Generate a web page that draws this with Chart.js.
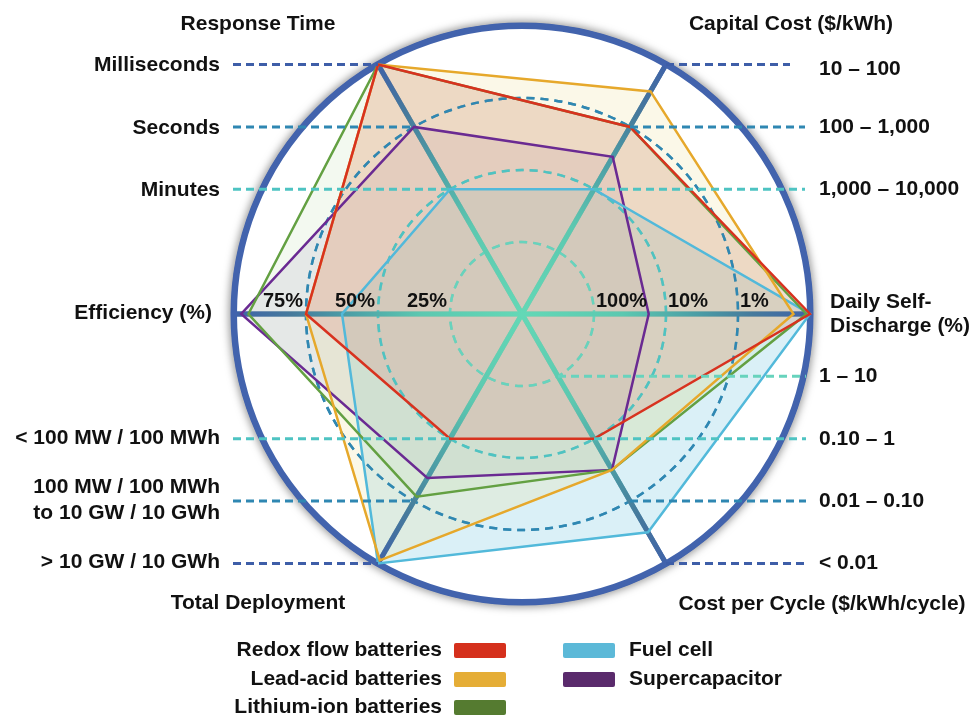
<!DOCTYPE html>
<html>
<head>
<meta charset="utf-8">
<script src="https://cdn.jsdelivr.net/npm/chart.js@4.4.0/dist/chart.umd.min.js"></script>
<style>
  html, body { margin: 0; padding: 0; background: #fff; }
  #wrap { width: 973px; height: 716px; position: relative; }
</style>
</head>
<body>
<div id="wrap"><canvas id="storageChart"></canvas></div>
<script>
// axes in Chart.js order (clockwise), rotated so Capital Cost sits upper right
var axisNames = ['Capital Cost', 'Daily Self-Discharge', 'Cost per Cycle', 'Total Deployment', 'Efficiency', 'Response Time'];

// ring levels 0-4
var redoxFlow = [3, 4, 2, 2, 3, 4];
var leadAcid = [3.57, 3.77, 2.5, 3.95, 3, 4];
var lithiumIon = [3, 3.95, 2.5, 2.93, 3.8, 4];
var fuelCell = [2, 4, 3.5, 4, 2.5, 2];
var supercapacitor = [2.52, 1.76, 2.5, 2.63, 3.9, 3];

// tick labels per axis, with the ring level each one belongs to
var capitalTicks = ['1,000 – 10,000', '100 – 1,000', '10 – 100'];
var capitalLevels = [2, 3, 4];
var dischargeTicks = ['100%', '10%', '1%'];
var dischargeLevels = [1, 2, 3];
var cycleTicks = ['1 – 10', '0.10 – 1', '0.01 – 0.10', '< 0.01'];
var cycleLevels = [1, 2, 3, 4];
var deployTicks = ['< 100 MW / 100 MWh', '100 MW / 100 MWh\nto 10 GW / 10 GWh', '> 10 GW / 10 GWh'];
var deployLevels = [2, 3, 4];
var efficiencyTicks = ['25%', '50%', '75%'];
var efficiencyLevels = [1, 2, 3];
var responseTicks = ['Minutes', 'Seconds', 'Milliseconds'];
var responseLevels = [2, 3, 4];

var seriesNames = ['Redox flow batteries', 'Lead-acid batteries', 'Lithium-ion batteries', 'Fuel cell', 'Supercapacitor'];
var lineColors = ['#d8321f', '#e6a82b', '#63a042', '#52b9da', '#6a2a92'];
var fillColors = ['rgba(220,110,100,0.20)', 'rgba(235,220,140,0.20)', 'rgba(170,212,150,0.14)',
                  'rgba(140,208,230,0.32)', 'rgba(180,170,210,0.22)'];
var legendColors = ['#d5301c', '#e5ad36', '#557b30', '#5cb9d8', '#5a2a6c'];

var levelColors = ['', '#67d3bd', '#4ec3c2', '#2f87b2', '#3e5ea8'];
var FONT = '"Liberation Sans", Arial, sans-serif';

function axisGradient(c) {
    var s = c.chart.scales.r;
    if (!s || !s.drawingArea) return '#55b5a8';
    var g = c.chart.ctx.createRadialGradient(s.xCenter, s.yCenter, 0, s.xCenter, s.yCenter, s.drawingArea);
    g.addColorStop(0, '#63d8b6');
    g.addColorStop(0.35, '#5cc8b0');
    g.addColorStop(0.6, '#4c9fa6');
    g.addColorStop(0.8, '#467a9c');
    g.addColorStop(1, '#4063a8');
    return g;
}

function dashed(ctx, x1, y1, x2, y2, color) {
    ctx.save();
    ctx.strokeStyle = color;
    ctx.lineWidth = 3;
    ctx.setLineDash([8, 5]);
    ctx.beginPath();
    ctx.moveTo(x1, y1);
    ctx.lineTo(x2, y2);
    ctx.stroke();
    ctx.restore();
}

function text(ctx, str, x, y, align) {
    ctx.textAlign = align;
    ctx.fillText(str, x, y);
}

function drawRim(chart) {
    var s = chart.scales.r, ctx = chart.ctx;
    var cx = s.xCenter, cy = s.yCenter, R = s.drawingArea;
    // soft grey halo on the outside of the rim
    ctx.save();
    ctx.beginPath();
    ctx.rect(0, 0, chart.width, chart.height);
    ctx.arc(cx, cy, R, 0, Math.PI * 2, true);
    ctx.clip();
    ctx.shadowColor = 'rgba(0,0,0,0.6)';
    ctx.shadowBlur = 10;
    ctx.strokeStyle = '#4263ad';
    ctx.lineWidth = 7;
    ctx.beginPath();
    ctx.arc(cx, cy, R, 0, Math.PI * 2);
    ctx.stroke();
    ctx.restore();
    ctx.save();
    ctx.strokeStyle = '#4263ad';
    ctx.lineWidth = 6;
    ctx.beginPath();
    ctx.arc(cx, cy, R, 0, Math.PI * 2);
    ctx.stroke();
    ctx.restore();
}

var FIRST_FILL = 5;   // fills come after the outlines in the dataset list

var decorPlugin = {
    id: 'decor',
    afterDatasetDraw: function (chart, args) {
        // once every fill is down, put the grid back on top, then the outlines follow
        if (args.index === FIRST_FILL) {
            chart.scales.r.drawGrid();
            drawRim(chart);
        }
    },
    afterDatasetsDraw: function (chart) {
        var s = chart.scales.r, ctx = chart.ctx;
        ctx.save();
        ctx.fillStyle = '#111';
        ctx.textBaseline = 'middle';
        ctx.font = 'bold 21px ' + FONT;
        var p, i;

        // left side: response time and total deployment
        for (i = 0; i < responseTicks.length; i++) {
            p = s.getPointPositionForValue(5, responseLevels[i]);
            dashed(ctx, 233, p.y, p.x, p.y, levelColors[responseLevels[i]]);
            text(ctx, responseTicks[i], 220, p.y + 1, 'right');
        }
        for (i = 0; i < deployTicks.length; i++) {
            p = s.getPointPositionForValue(3, deployLevels[i]);
            dashed(ctx, 233, p.y, p.x, p.y, levelColors[deployLevels[i]]);
            var lines = deployTicks[i].split('\n');
            for (var k = 0; k < lines.length; k++) {
                text(ctx, lines[k], 220, p.y - 1 + (k - (lines.length - 1) / 2) * 26, 'right');
            }
        }
        // right side: capital cost and cost per cycle
        for (i = 0; i < capitalTicks.length; i++) {
            p = s.getPointPositionForValue(0, capitalLevels[i]);
            dashed(ctx, p.x, p.y, i === 2 ? 790 : 805, p.y, levelColors[capitalLevels[i]]);
            text(ctx, capitalTicks[i], 819, p.y + (i === 2 ? 5 : 0), 'left');
        }
        for (i = 0; i < cycleTicks.length; i++) {
            p = s.getPointPositionForValue(2, cycleLevels[i]);
            dashed(ctx, p.x, p.y, 806, p.y, levelColors[cycleLevels[i]]);
            text(ctx, cycleTicks[i], 819, p.y, 'left');
        }

        // percent ticks sitting on the horizontal axis
        ctx.font = 'bold 20px ' + FONT;
        for (i = 0; i < efficiencyTicks.length; i++) {
            p = s.getPointPositionForValue(4, efficiencyLevels[i]);
            text(ctx, efficiencyTicks[i], p.x - 3, p.y - 13, 'right');
        }
        for (i = 0; i < dischargeTicks.length; i++) {
            p = s.getPointPositionForValue(1, dischargeLevels[i]);
            text(ctx, dischargeTicks[i], p.x + 2, p.y - 13, 'left');
        }

        // axis titles
        ctx.font = 'bold 21px ' + FONT;
        text(ctx, 'Response Time', 258, 24, 'center');
        text(ctx, 'Capital Cost ($/kWh)', 791, 24, 'center');
        text(ctx, 'Efficiency (%)', 212, 313, 'right');
        text(ctx, 'Daily Self-', 830, 302, 'left');
        text(ctx, 'Discharge (%)', 830, 326, 'left');
        text(ctx, 'Total Deployment', 258, 603, 'center');
        text(ctx, 'Cost per Cycle ($/kWh/cycle)', 822, 604, 'center');

        // legend: two columns, label beside a colour bar
        var rows = [650, 679, 707];
        for (i = 0; i < seriesNames.length; i++) {
            var col = i < 3 ? 0 : 1;
            var y = rows[col === 0 ? i : i - 3];
            var bx = col === 0 ? 454 : 563;
            ctx.fillStyle = legendColors[i];
            ctx.beginPath();
            ctx.roundRect(bx, y - 7, 52, 15, 2);
            ctx.fill();
            ctx.fillStyle = '#111';
            if (col === 0) text(ctx, seriesNames[i], 442, y, 'right');
            else text(ctx, seriesNames[i], 629, y, 'left');
        }
        ctx.restore();
    }
};

var series = [redoxFlow, leadAcid, lithiumIon, fuelCell, supercapacitor];
var outlines = series.map(function (values, i) {
    return {
        label: seriesNames[i],
        data: values,
        borderColor: lineColors[i],
        backgroundColor: 'transparent',
        borderWidth: 2.5,
        fill: false,
        order: 0,
        pointRadius: 0,
        pointHoverRadius: 0
    };
});
var fills = series.map(function (values, i) {
    return {
        label: seriesNames[i] + ' area',
        data: values,
        borderWidth: 0,
        borderColor: 'transparent',
        backgroundColor: fillColors[i],
        fill: true,
        order: 1,
        pointRadius: 0,
        pointHoverRadius: 0
    };
});

new Chart(document.getElementById('storageChart'), {
    type: 'radar',
    data: { labels: axisNames, datasets: outlines.concat(fills) },
    options: {
        responsive: true,
        maintainAspectRatio: false,
        animation: false,
        layout: { padding: { left: 234, right: 163, top: 26, bottom: 114 } },
        plugins: { legend: { display: false }, tooltip: { enabled: false } },
        scales: {
            r: {
                min: 0,
                max: 4,
                startAngle: 30,
                ticks: { display: false, stepSize: 1 },
                pointLabels: { display: false },
                grid: {
                    circular: true,
                    lineWidth: 2.5,
                    color: function (c) { return c.index >= 4 ? 'transparent' : levelColors[c.index]; }
                },
                border: { dash: [8, 6] },
                angleLines: { color: axisGradient, lineWidth: 5 }
            }
        }
    },
    plugins: [decorPlugin]
});
</script>
</body>
</html>
